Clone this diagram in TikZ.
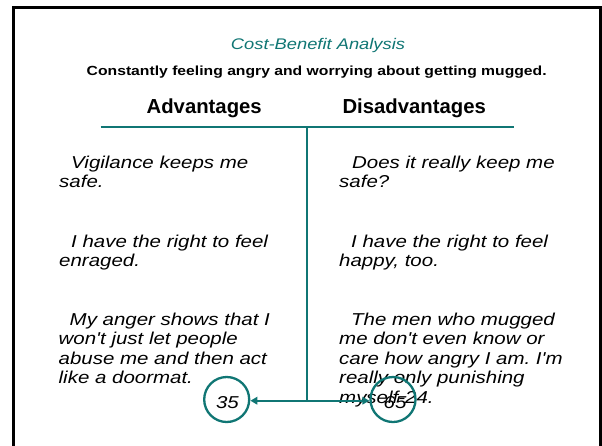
\documentclass[tikz,border=0pt]{standalone}
\usepackage{fontspec}
\setmainfont{Liberation Sans}
\newfontfamily\bodyf[FakeStretch=1.19,Ligatures=TeXOff]{Liberation Sans}
\newfontfamily\headf{Liberation Sans}
\usetikzlibrary{arrows.meta}
\definecolor{teal1}{RGB}{16,118,116}
\newcommand{\firstln}{\rule{0pt}{16pt}}
\frenchspacing
\begin{document}
\begin{tikzpicture}[x=1pt,y=-1pt,
  body/.style={font=\bodyf\itshape\fontsize{17.2}{19.5}\selectfont, anchor=north west, inner sep=0pt, align=left},
  head/.style={font=\headf\bfseries\fontsize{20.3}{24}\selectfont, anchor=base, inner sep=0pt},
  tline/.style={draw=teal1, line width=2.3pt},
  circ/.style={circle, draw=teal1, line width=2.3pt, minimum size=45pt, inner sep=0pt},
  num/.style={font=\bodyf\itshape\fontsize{17.2}{19.5}\selectfont, inner sep=0pt},
  arr/.style={draw=teal1, line width=2.2pt, -{Triangle[length=7pt,width=7.5pt]}}]
\clip (0,0) rectangle (602,445);
\fill[white] (0,0) rectangle (602,445);
% frame
\draw[line width=2.5pt] (13.3,460) -- (13.3,7.3) -- (600.3,7.3) -- (600.3,460);
% titles
\node[font=\bodyf\itshape\fontsize{15.4}{18}\selectfont, text=teal1, anchor=base, inner sep=0pt] (title) at (318,49) {Cost-Benefit Analysis};
\node[font=\bodyf\bfseries\fontsize{13.2}{16}\selectfont, anchor=base, inner sep=0pt] (sub) at (316.7,75) {Constantly feeling angry and worrying about getting mugged.};
\node[head] (adv) at (204.2,113.5) {Advantages};
\node[head] (dis) at (414.2,113.5) {Disadvantages};
% T lines
\coordinate (hl) at (100.7,126.7);
\coordinate (hr) at (514.3,126.7);
\coordinate (vt) at (307.3,126.7);
\coordinate (vb) at (307.3,400.7);
\draw[tline] (hl) -- (hr);
\draw[tline] (vt) -- (vb);
% text blocks (first baseline = top + 16)
\node[body] (l1) at (59,152) {\firstln\hspace*{12pt}Vigilance keeps me\\safe.};
\node[body] (l2) at (59,231) {\firstln\hspace*{12pt}I have the right to feel\\enraged.};
\node[body] (l3) at (58.5,309) {\firstln\hspace*{11pt}My anger shows that I\\won't just let people\\abuse me and then act\\like a doormat.};
\node[body] (r1) at (339,152) {\firstln\hspace*{13pt}Does it really keep me\\safe?};
\node[body] (r2) at (339,231) {\firstln\hspace*{12pt}I have the right to feel\\happy, too.};
\node[body] (r3) at (339,309) {\firstln\hspace*{12pt}The men who mugged\\me don't even know or\\care how angry I am. I'm\\really only punishing\\myself-24.};
% circles
\node[circ] (c35) at (226.7,399.5) {};
\node[circ] (c65) at (393,399.5) {};
\node[num] (n35) at (227.5,403) {35};
\node[num] (n65) at (395,403) {65};
\draw[arr] (vb) -- (c35.east |- vb);
\draw[arr] (vb) -- (c65.west |- vb);
\end{tikzpicture}
\end{document}
